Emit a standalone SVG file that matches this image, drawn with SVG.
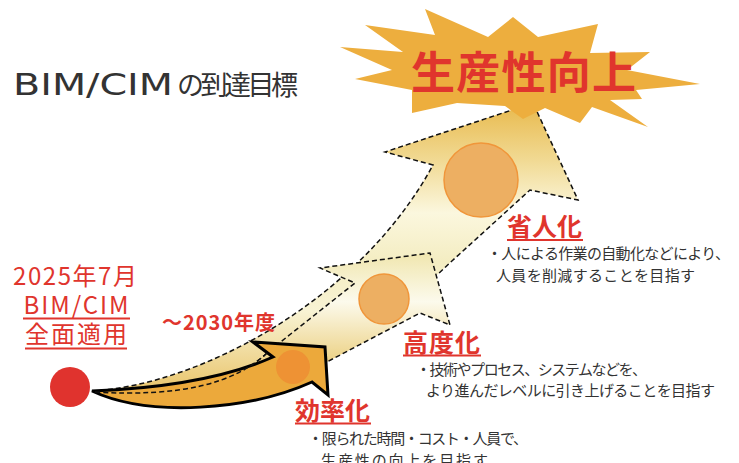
<svg xmlns="http://www.w3.org/2000/svg" width="739" height="463" viewBox="0 0 739 463">
<defs>
<style>
.title{font-family:"DejaVu Sans","Noto Sans CJK JP",sans-serif;font-size:31px;fill:#333333}
.red{font-family:"Noto Sans CJK JP",sans-serif;fill:#E0352D}
.lbl{font-size:24px}
.head{font-size:25px;font-weight:bold}
.desc{font-family:"Noto Sans CJK JP",sans-serif;font-size:15px;fill:#333333}
.ul{stroke:#E0352D;stroke-width:2}
.dash{fill:none;stroke:#111;stroke-width:1.5;stroke-dasharray:5 3}
.orb{fill:#EDAF62;stroke:#F0963A;stroke-width:1.5}
</style>
<linearGradient id="gBig" gradientUnits="userSpaceOnUse" x1="0" y1="103" x2="0" y2="392">
<stop offset="0" stop-color="#E8B94C"/>
<stop offset="0.2" stop-color="#F1DA94"/>
<stop offset="0.38" stop-color="#FBF7DE"/>
<stop offset="0.55" stop-color="#F4EDC2"/>
<stop offset="0.72" stop-color="#F8F3D4"/>
<stop offset="1" stop-color="#E9C46A"/>
</linearGradient>
<linearGradient id="gMid" gradientUnits="userSpaceOnUse" x1="0" y1="253" x2="0" y2="392">
<stop offset="0" stop-color="#F0E6AE"/>
<stop offset="0.35" stop-color="#FCFAEC"/>
<stop offset="0.7" stop-color="#EFD998"/>
<stop offset="1" stop-color="#E7BC55"/>
</linearGradient>
</defs>
<rect width="739" height="463" fill="#FFFFFF"/>

<g id="title">
<text class="title" y="95"><tspan x="13" textLength="160" lengthAdjust="spacingAndGlyphs">BIM/CIM</tspan><tspan x="177" textLength="121" font-family="Noto Sans CJK JP, sans-serif" font-size="27">の到達目標</tspan></text>
</g>

<g id="connectors">
<g id="arrow-shojinka">
<path d="M92,391 C200,385 360,300 433,165 L385,152 L533,103 L578,200 L530,190 L453,260 L437,275 C405,310 330,350 290,378 C220,398 140,400 92,391 Z" fill="url(#gBig)"/>
<path class="dash" d="M92,391 C200,385 360,300 433,165 L385,152 L533,103 L578,200 L530,190 L453,260 L437,275"/>
</g>
<g id="arrow-kodoka">
<path d="M95,392 C180,397 235,384 268,352 L355,283 L320,268 L430,253 L450,325 L420,313 L323,364 C280,380 180,400 95,393 Z" fill="url(#gMid)"/>
<path class="dash" d="M95,392 C180,397 235,384 268,352 L355,283 L320,268 L430,253 L450,325 L420,313 L323,364"/>
</g>
<g id="arrow-koritsuka">
<path d="M92,391 C170,388 230,376 273,357 L253,342 L325,347 L328,395 L312,382 C250,410 150,418 92,391 Z" fill="#ECA93B" stroke="#000" stroke-width="3" stroke-linejoin="miter"/>
<path class="dash" d="M95,392 C180,397 235,384 268,352"/>
</g>
</g>

<g id="orb-koritsuka"><circle cx="293" cy="367" r="17" fill="#EE9234"/></g>
<g id="orb-kodoka"><circle class="orb" cx="384" cy="299" r="25"/></g>
<g id="orb-shojinka"><circle class="orb" cx="481" cy="180" r="37"/></g>

<g id="start-dot"><circle cx="70" cy="387" r="20" fill="#E0332E"/></g>

<g id="label-start">
<text class="red lbl" x="75" y="285" text-anchor="middle" textLength="124">2025年7月</text>
<text class="red lbl" x="76" y="314" text-anchor="middle" textLength="105">BIM/CIM</text>
<line class="ul" x1="23" y1="318.5" x2="130" y2="318.5"/>
<text class="red lbl" x="76" y="343" text-anchor="middle" textLength="102">全面適用</text>
<line class="ul" x1="25" y1="348.5" x2="127" y2="348.5"/>
</g>

<g id="label-2030">
<text class="red" x="162" y="330" font-size="20" font-weight="bold" textLength="113">～2030年度</text>
</g>

<g id="goal">
<polygon points="425,9 488,37 513,17 538,37 598,24 590,53 650,52 627,70 700,84 636,90 642,99 610,100 648,127 592,107 580,123 545,108 523,119 505,106 457,103 412,113 412,90 355,79 392,70 340,47 403,52 365,25 435,35" fill="#EDAE3E"/>
<text class="red" x="411" y="89" font-size="44" font-weight="bold" textLength="225">生産性向上</text>
</g>

<g id="text-shojinka">
<text class="red head" x="507" y="236" textLength="75">省人化</text>
<line class="ul" x1="507" y1="240" x2="583" y2="240"/>
<text class="desc" x="487" y="259" textLength="243">・人による作業の自動化などにより、</text>
<text class="desc" x="496" y="281" textLength="199">人員を削減することを目指す</text>
</g>

<g id="text-kodoka">
<text class="red head" x="403" y="352" textLength="77">高度化</text>
<line class="ul" x1="403" y1="355.5" x2="481" y2="355.5"/>
<text class="desc" x="416" y="375" textLength="231">・技術やプロセス、システムなどを、</text>
<text class="desc" x="426" y="396" textLength="289">より進んだレベルに引き上げることを目指す</text>
</g>

<g id="text-koritsuka">
<text class="red head" x="295" y="420" textLength="75">効率化</text>
<line class="ul" x1="295" y1="423.5" x2="371" y2="423.5"/>
<text class="desc" x="308" y="444" textLength="220">・限られた時間・コスト・人員で、</text>
<text class="desc" x="321" y="466" textLength="167">生産性の向上を目指す</text>
</g>
</svg>
